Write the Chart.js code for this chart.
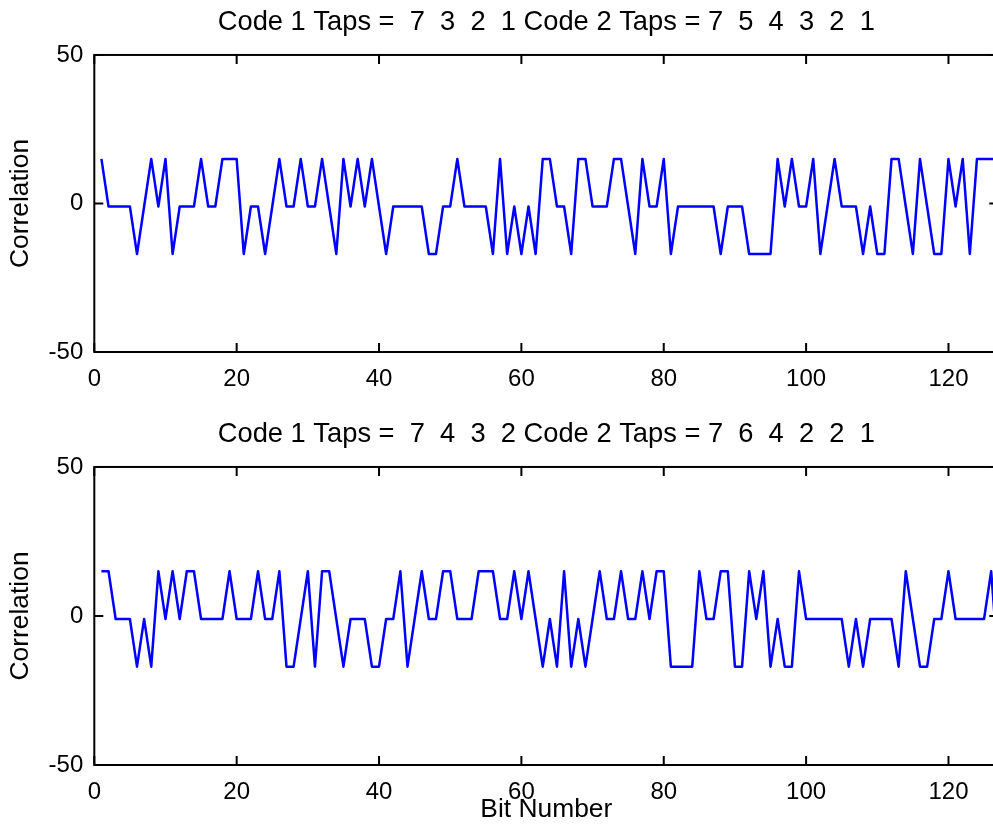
<!DOCTYPE html>
<html>
<head>
<meta charset="utf-8">
<title>Gold code cross-correlation</title>
<script src="https://cdn.jsdelivr.net/npm/chart.js@4.4.1/dist/chart.umd.min.js"></script>
<style>
  html, body { margin: 0; padding: 0; background: #fff; overflow: hidden; width: 993px; height: 829px; }
  canvas { position: absolute; left: 0; display: block; }
  #corrTop { top: 0; }
  #corrBottom { top: 413px; }
</style>
</head>
<body>
<canvas id="corrTop" width="1000" height="413"></canvas>
<canvas id="corrBottom" width="1000" height="416"></canvas>
<script>
// cross-correlation per bit shift, shifts 1..127
var corrTop = [
  15, -1, -1, -1, -1, -17, -1, 15, -1, 15,
  -17, -1, -1, -1, 15, -1, -1, 15, 15, 15,
  -17, -1, -1, -17, -1, 15, -1, -1, 15, -1,
  -1, 15, -1, -17, 15, -1, 15, -1, 15, -1,
  -17, -1, -1, -1, -1, -1, -17, -17, -1, -1,
  15, -1, -1, -1, -1, -17, 15, -17, -1, -17,
  -1, -17, 15, 15, -1, -1, -17, 15, 15, -1,
  -1, -1, 15, 15, -1, -17, 15, -1, -1, 15,
  -17, -1, -1, -1, -1, -1, -1, -17, -1, -1,
  -1, -17, -17, -17, -17, 15, -1, 15, -1, -1,
  15, -17, -1, 15, -1, -1, -1, -17, -1, -17,
  -17, 15, 15, -1, -17, 15, -1, -17, -17, 15,
  -1, 15, -17, 15, 15, 15, 15
];
var corrBottom = [
  15, 15, -1, -1, -1, -17, -1, -17, 15, -1,
  15, -1, 15, 15, -1, -1, -1, -1, 15, -1,
  -1, -1, 15, -1, -1, 15, -17, -17, -1, 15,
  -17, 15, 15, -1, -17, -1, -1, -1, -17, -17,
  -1, -1, 15, -17, -1, 15, -1, -1, 15, 15,
  -1, -1, -1, 15, 15, 15, -1, -1, 15, -1,
  15, -1, -17, -1, -17, 15, -17, -1, -17, -1,
  15, -1, -1, 15, -1, -1, 15, -1, 15, 15,
  -17, -17, -17, -17, 15, -1, -1, 15, 15, -17,
  -17, 15, -1, 15, -17, -1, -17, -17, 15, -1,
  -1, -1, -1, -1, -1, -17, -1, -17, -1, -1,
  -1, -1, -17, 15, -1, -17, -17, -1, -1, 15,
  -1, -1, -1, -1, -1, 15, -17
];
var bitNumbers = corrTop.map(function(v, i) { return i + 1; });
var xTicks = [0, 20, 40, 60, 80, 100, 120];
var yTicks = [-50, 0, 50];
var titleTop = 'Code 1 Taps =  7  3  2  1 Code 2 Taps = 7  5  4  3  2  1';
var titleBottom = 'Code 1 Taps =  7  4  3  2 Code 2 Taps = 7  6  4  2  2  1';

Chart.defaults.font.family = '"Liberation Sans", Arial, Helvetica, sans-serif';
Chart.defaults.color = '#000';

var tickFont = { size: 24 };
var labelFont = { size: 26.4, weight: 'normal' };
var titleFont = { size: 27.3, weight: 'normal' };

// box around the axes with inward tick marks on all four sides
var framePlugin = {
  id: 'frame',
  afterDatasetsDraw: function(chart) {
    var a = chart.chartArea, ctx = chart.ctx;
    var xs = chart.scales.x, ys = chart.scales.y;
    var len = 9;
    ctx.save();
    ctx.strokeStyle = '#000';
    ctx.lineWidth = 2;
    ctx.strokeRect(a.left, a.top, a.right - a.left, a.bottom - a.top);
    ctx.beginPath();
    xTicks.forEach(function(v) {
      var px = xs.getPixelForValue(v);
      ctx.moveTo(px, a.bottom); ctx.lineTo(px, a.bottom - len);
      ctx.moveTo(px, a.top); ctx.lineTo(px, a.top + len);
    });
    yTicks.forEach(function(v) {
      var py = ys.getPixelForValue(v);
      ctx.moveTo(a.left, py); ctx.lineTo(a.left + len, py);
      ctx.moveTo(a.right, py); ctx.lineTo(a.right - len, py);
    });
    ctx.stroke();
    ctx.restore();
  }
};

function corrChart(canvasId, titleText, values, opts) {
  return new Chart(document.getElementById(canvasId), {
    type: 'line',
    data: {
      datasets: [{
        data: values.map(function(v, i) { return { x: bitNumbers[i], y: v }; }),
        borderColor: '#0000ff',
        borderWidth: 2.5,
        borderJoinStyle: 'round',
        pointRadius: 0,
        tension: 0,
        fill: false
      }]
    },
    options: {
      responsive: false,
      animation: false,
      events: [],
      layout: { padding: { left: 0, right: 1.7, top: 0, bottom: 0 } },
      plugins: {
        legend: { display: false },
        tooltip: { enabled: false },
        title: {
          display: true,
          text: titleText,
          fullSize: false,
          color: '#000',
          font: titleFont,
          padding: { top: opts.titleTop, bottom: 16.6 }
        }
      },
      scales: {
        x: {
          type: 'linear',
          min: 0,
          max: 127,
          afterBuildTicks: function(s) { s.ticks = xTicks.map(function(v) { return { value: v }; }); },
          afterFit: function(s) { s.height = opts.xHeight; },
          grid: { display: false, drawTicks: false },
          border: { display: false },
          ticks: { color: '#000', font: tickFont, padding: 13, maxRotation: 0, autoSkip: false },
          title: {
            display: !!opts.xTitle,
            text: opts.xTitle || '',
            color: '#000',
            font: labelFont,
            padding: { top: 0, bottom: 3.2 }
          }
        },
        y: {
          min: -50,
          max: 50,
          afterBuildTicks: function(s) { s.ticks = yTicks.map(function(v) { return { value: v }; }); },
          afterFit: function(s) { s.width = 94.3; },
          grid: { display: false, drawTicks: false },
          border: { display: false },
          ticks: { color: '#000', font: tickFont, padding: 11 },
          title: {
            display: true,
            text: 'Correlation',
            color: '#000',
            font: labelFont,
            padding: { top: 5.2, bottom: 0 }
          }
        }
      }
    },
    plugins: [framePlugin]
  });
}

corrChart('corrTop', titleTop, corrTop, { titleTop: 5.6, xHeight: 61 });
corrChart('corrBottom', titleBottom, corrBottom, { titleTop: 4.6, xHeight: 64, xTitle: 'Bit Number' });
</script>
</body>
</html>
